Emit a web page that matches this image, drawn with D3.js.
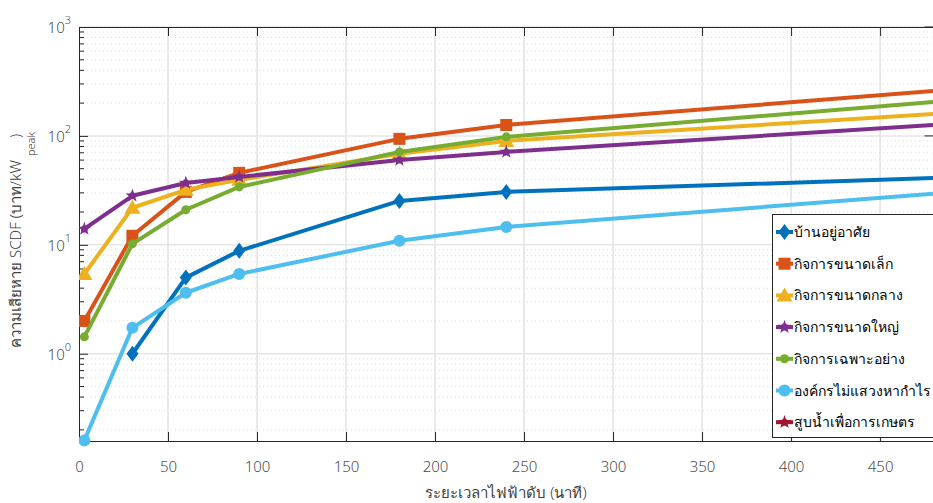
<!DOCTYPE html>
<html>
<head>
<meta charset="utf-8">
<script src="https://cdn.jsdelivr.net/npm/d3@7"></script>
<style>
  body { margin: 0; background: #fff; }
  svg text { font-family: "Noto Sans", "DejaVu Sans", sans-serif; font-weight: 300; }
</style>
</head>
<body>
<div id="chart"></div>
<script>
// outage durations (minutes)
var durations = [3, 30, 60, 90, 180, 240, 480];

var seriesNames = [
  "บ้านอยู่อาศัย",
  "กิจการขนาดเล็ก",
  "กิจการขนาดกลาง",
  "กิจการขนาดใหญ่",
  "กิจการเฉพาะอย่าง",
  "องค์กรไม่แสวงหากำไร",
  "สูบน้ำเพื่อการเกษตร"
];

// SCDF values (baht/kW peak), null = no value
var residential = [null, 1.0, 5.0, 8.8, 25.3, 30.6, 41];
var smallBiz    = [2.0, 12.1, 30.6, 45.8, 94, 126, 259];
var mediumBiz   = [5.4, 21.9, 32, 39.5, 68.4, 90, 159];
var largeBiz    = [14, 28.2, 37, 42, 60, 71.3, 126];
var specificBiz = [1.43, 10.2, 21, 34, 71.3, 98, 205];
var nonProfit   = [0.16, 1.73, 3.63, 5.4, 10.9, 14.6, 29.4];
var waterPump   = [];

var xTicks = [0, 50, 100, 150, 200, 250, 300, 350, 400, 450];
var yDecades = [1, 10, 100, 1000];

var colors = ["#0072BD", "#D95319", "#EDB120", "#7E2F8E", "#77AC30", "#4DBEEE", "#A2142F"];
var symbols = ["diamond", "square", "triangle", "star", "circle", "bigcircle", "star"];

var allSeries = [residential, smallBiz, mediumBiz, largeBiz, specificBiz, nonProfit, waterPump];

var width = 933, height = 503;
var margin = {top: 27, right: 0, bottom: 62, left: 79};

var svg = d3.select("#chart").append("svg")
    .attr("width", width)
    .attr("height", height);

var x = d3.scaleLinear().domain([0, 480]).range([margin.left, 933.5]);
var y = d3.scaleLog().domain([0.158, 1000]).range([height - margin.bottom, margin.top]);

var plotBottom = height - margin.bottom;
var plotRight = 933.5;

// grid
var minorVals = [];
for (var e = -1; e < 3; e++) {
    for (var k = 2; k <= 9; k++) {
        var v = k * Math.pow(10, e);
        if (v >= 0.158 && v < 1000) minorVals.push(v);
    }
}

svg.append("g").selectAll("line")
    .data(minorVals)
    .enter().append("line")
        .attr("x1", margin.left).attr("x2", plotRight)
        .attr("y1", function(d) { return y(d); })
        .attr("y2", function(d) { return y(d); })
        .style("stroke", "#dedede")
        .style("stroke-width", 1)
        .style("stroke-dasharray", "1,3");

svg.append("g").selectAll("line")
    .data(yDecades)
    .enter().append("line")
        .attr("x1", margin.left).attr("x2", plotRight)
        .attr("y1", function(d) { return y(d); })
        .attr("y2", function(d) { return y(d); })
        .style("stroke", "#e6e6e6")
        .style("stroke-width", 1.5);

svg.append("g").selectAll("line")
    .data(xTicks.slice(1))
    .enter().append("line")
        .attr("y1", margin.top).attr("y2", plotBottom)
        .attr("x1", function(d) { return x(d); })
        .attr("x2", function(d) { return x(d); })
        .style("stroke", "#e3e3e3")
        .style("stroke-width", 1.5);

// axes
var xAxis = svg.append("g")
    .attr("transform", "translate(0," + plotBottom + ")")
    .call(d3.axisBottom(x).tickValues(xTicks).tickSizeInner(-9).tickSizeOuter(0).tickPadding(20));
xAxis.select(".domain").style("stroke", "#262626");
xAxis.selectAll(".tick line").style("stroke", "#262626");
xAxis.selectAll("text").style("font-size", "15px").style("fill", "#4d4d4d");

var xTop = svg.append("g")
    .attr("transform", "translate(0," + margin.top + ")")
    .call(d3.axisTop(x).tickValues(xTicks).tickSizeInner(-9).tickSizeOuter(0).tickFormat(""));
xTop.select(".domain").style("stroke", "#262626");
xTop.selectAll(".tick line").style("stroke", "#262626");

var yAxis = svg.append("g")
    .attr("transform", "translate(" + margin.left + ",0)")
    .call(d3.axisLeft(y).tickValues(yDecades).tickSizeInner(-9).tickSizeOuter(0).tickFormat(""));
yAxis.select(".domain").style("stroke", "#262626");
yAxis.selectAll(".tick line").style("stroke", "#262626");

svg.append("g").selectAll("line")
    .data(minorVals)
    .enter().append("line")
        .attr("x1", margin.left).attr("x2", margin.left + 5)
        .attr("y1", function(d) { return y(d); })
        .attr("y2", function(d) { return y(d); })
        .style("stroke", "#262626");

// right axis ticks (axis itself is just off the picture)
svg.append("g").selectAll("line")
    .data(yDecades)
    .enter().append("line")
        .attr("x1", plotRight - 9).attr("x2", plotRight)
        .attr("y1", function(d) { return y(d); })
        .attr("y2", function(d) { return y(d); })
        .style("stroke", "#262626");

// y tick labels 10^n
var yLab = svg.append("g").selectAll("text")
    .data(yDecades)
    .enter().append("text")
        .attr("x", margin.left - 8)
        .attr("y", function(d) { return y(d) + 6; })
        .attr("text-anchor", "end")
        .style("font-size", "15px")
        .style("fill", "#4d4d4d");
yLab.append("tspan").text("10");
yLab.append("tspan")
    .attr("dy", -9)
    .style("font-size", "11px")
    .text(function(d) { return Math.round(Math.log10(d)); });

// axis titles
svg.append("text")
    .attr("x", (margin.left + width) / 2)
    .attr("y", 498)
    .attr("text-anchor", "middle")
    .style("font-size", "15px")
    .style("fill", "#404040")
    .text("ระยะเวลาไฟฟ้าดับ (นาที)");

var yt = svg.append("text")
    .attr("transform", "translate(21,240) rotate(-90)")
    .attr("text-anchor", "middle")
    .style("font-size", "15px")
    .style("fill", "#404040");
yt.append("tspan").text("ความเสียหาย SCDF (บาท/kW");
yt.append("tspan").attr("dy", 14).attr("dx", 4).style("font-size", "11px").text("peak");
yt.append("tspan").attr("dy", -14).attr("dx", -6).text(")");

// marker drawing
function drawMarker(g, sym, color, cx, cy) {
    if (sym == "diamond") {
        g.append("path")
            .attr("d", "M" + cx + "," + (cy - 8) + "L" + (cx + 6) + "," + cy + "L" + cx + "," + (cy + 8) + "L" + (cx - 6) + "," + cy + "Z")
            .style("fill", color);
    } else if (sym == "square") {
        g.append("rect")
            .attr("x", cx - 6).attr("y", cy - 6)
            .attr("width", 12).attr("height", 12)
            .style("fill", color);
    } else if (sym == "triangle") {
        g.append("path")
            .attr("d", "M" + cx + "," + (cy - 8) + "L" + (cx + 8) + "," + (cy + 6) + "L" + (cx - 8) + "," + (cy + 6) + "Z")
            .style("fill", color);
    } else if (sym == "star") {
        g.append("path")
            .attr("d", d3.symbol().type(d3.symbolStar).size(60)())
            .attr("transform", "translate(" + cx + "," + cy + ")")
            .style("fill", color);
        g.append("circle").attr("cx", cx).attr("cy", cy).attr("r", 3.5).style("fill", color);
    } else if (sym == "circle") {
        g.append("circle").attr("cx", cx).attr("cy", cy).attr("r", 4.5).style("fill", color);
    } else if (sym == "bigcircle") {
        g.append("circle").attr("cx", cx).attr("cy", cy).attr("r", 6).style("fill", color);
    }
}

svg.append("clipPath").attr("id", "plotclip")
    .append("rect")
        .attr("x", margin.left).attr("y", margin.top - 10)
        .attr("width", plotRight - margin.left).attr("height", plotBottom - margin.top + 20);

var plot = svg.append("g").attr("clip-path", "url(#plotclip)");

var line = d3.line()
    .defined(function(d) { return d[1] != null; })
    .x(function(d) { return x(d[0]); })
    .y(function(d) { return y(d[1]); });

allSeries.forEach(function(s, i) {
    var pts = durations.map(function(t, j) { return [t, s[j]]; })
        .filter(function(d) { return d[1] != null; });
    if (pts.length == 0) return;
    var g = plot.append("g");
    g.append("path")
        .datum(pts)
        .attr("d", line)
        .style("fill", "none")
        .style("stroke", colors[i])
        .style("stroke-width", 4)
        .style("stroke-linejoin", "round");
    // the last point sits on the frame edge: the reference shows no marker there
    pts.filter(function(p) { return x(p[0]) < plotRight - 10; }).forEach(function(p) {
        drawMarker(g, symbols[i], colors[i], x(p[0]), y(p[1]));
    });
});

// legend
var lg = svg.append("g");
lg.append("rect")
    .attr("x", 772.5).attr("y", 214.5)
    .attr("width", 170).attr("height", 223)
    .style("fill", "#fff")
    .style("stroke", "#262626")
    .style("stroke-width", 1);

seriesNames.forEach(function(name, i) {
    var ly = 232 + i * 31.7;
    lg.append("line")
        .attr("x1", 776).attr("x2", 793)
        .attr("y1", ly).attr("y2", ly)
        .style("stroke", colors[i])
        .style("stroke-width", 4);
    drawMarker(lg, symbols[i], colors[i], 784.5, ly);
    lg.append("text")
        .attr("x", 794)
        .attr("y", ly + 5)
        .style("font-size", "14px")
        .style("fill", "#000")
        .text(name);
});
</script>
</body>
</html>
